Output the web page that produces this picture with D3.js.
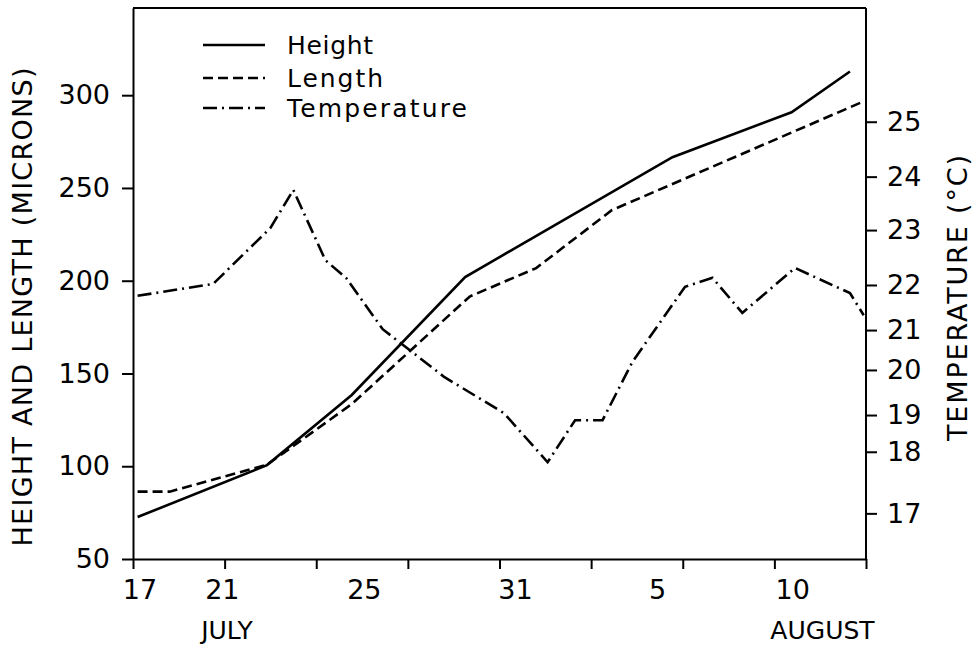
<!DOCTYPE html>
<html>
<head>
<meta charset="utf-8">
<script src="https://cdn.jsdelivr.net/npm/d3@7"></script>
<style>
body{margin:0;background:#fff}
text{font-family:"DejaVu Sans",sans-serif;fill:#000}
</style>
</head>
<body>
<div class="chart"></div>
<script>
// x is days counted from 17 July
const dayTicks = d3.range(0, 33, 4);
const dateLabels = ["17", "21", "25", "31", "5", "10"];
const dateLabelDays = [0.3, 3.9, 10.1, 16.7, 22.9, 28.8];
const monthLabels = ["JULY", "AUGUST"];
const monthLabelDays = [4.1, 30.1];

const micronTicks = [50, 100, 150, 200, 250, 300];
const tempTicks = [17, 18, 19, 20, 21, 22, 23, 24, 25];
// the right axis of the original is unevenly ruled:
// level of each degree, read in microns on the left axis
const tempTickMicrons = [74.6, 107.8, 127.6, 151.9, 173.4, 197.7, 227.3, 256.1, 285.7];

const heightDays = [0.2, 5.85, 9.55, 14.5, 23.55, 28.75, 31.3];
const heightVals = [72.6, 100.6, 138.4, 202, 266.6, 290.8, 312.8];

const lengthDays = [0.2, 1.6, 5.85, 9.55, 14.7, 17.6, 20.9, 31.85];
const lengthVals = [86.3, 86.3, 100.8, 133.5, 191.5, 206.8, 238, 296.4];

const tempDays = [0.2, 3.5, 6.0, 7.0, 8.4, 9.3, 10.9, 13.6, 16.2, 18.1, 19.3, 20.5, 21.8, 24.1, 25.3, 26.6, 28.9, 31.3, 31.9];
const tempVals = [21.76, 22.02, 23.04, 23.75, 22.45, 22.13, 21.02, 19.84, 19.04, 17.83, 18.86, 18.86, 20.2, 21.96, 22.13, 21.38, 22.31, 21.82, 21.33];

const margin = {left:133, right:113, top:8, bottom:90};
const outerWidth = 979;
const outerHeight = 649;
const width = outerWidth - margin.left - margin.right;
const height = outerHeight - margin.top - margin.bottom;

const svg = d3.select(".chart").append("svg")
  .attr("width", outerWidth)
  .attr("height", outerHeight);
svg.append("rect").attr("width", outerWidth).attr("height", outerHeight).attr("fill", "#fff");

const g = svg.append("g")
  .attr("transform", `translate(${margin.left}, ${margin.top})`);

const xScale = d3.scaleLinear().domain([0, 32]).range([0, width]);
const yScale = d3.scaleLinear().domain([50, 347]).range([height, 0]);
const tScale = d3.scaleLinear().domain(tempTicks).range(tempTickMicrons.map(v => yScale(v)));

// axes
const xAxis = d3.axisBottom(xScale).tickValues(dayTicks).tickFormat("").tickSize(10).tickSizeOuter(0);
const yAxis = d3.axisLeft(yScale).tickValues(micronTicks).tickSize(11).tickPadding(12).tickSizeOuter(0);
const tAxis = d3.axisRight(tScale).tickValues(tempTicks).tickSize(11).tickPadding(10).tickSizeOuter(0);

g.append("g").attr("class", "x-axis")
  .attr("transform", `translate(0, ${height})`)
  .call(xAxis);
g.append("g").attr("class", "y-axis").call(yAxis);
g.append("g").attr("class", "t-axis")
  .attr("transform", `translate(${width}, 0)`)
  .call(tAxis);

// the right axis has to reach the top of the frame
g.select(".t-axis .domain").attr("d", `M0,0V${height}`);

g.append("line")
  .attr("x1", 0).attr("x2", width)
  .attr("y1", 0).attr("y2", 0)
  .attr("stroke", "#000").attr("stroke-width", 2);

g.selectAll(".domain").attr("stroke", "#000").attr("stroke-width", 2);
g.selectAll(".tick line").attr("stroke", "#000").attr("stroke-width", 2);
g.selectAll(".tick text").style("font-size", "27px").attr("fill", "#000");

// date labels under the ticks
g.selectAll(".date-label")
  .data(dateLabels)
  .enter()
  .append("text")
  .attr("class", "date-label")
  .attr("x", (d, i) => xScale(dateLabelDays[i]))
  .attr("y", height + 40)
  .attr("text-anchor", "middle")
  .style("font-size", "27px")
  .text(d => d);

g.selectAll(".month-label")
  .data(monthLabels)
  .enter()
  .append("text")
  .attr("class", "month-label")
  .attr("x", (d, i) => xScale(monthLabelDays[i]))
  .attr("y", height + 80)
  .attr("text-anchor", "middle")
  .style("font-size", "25px")
  .text(d => d);

// axis titles
svg.append("text")
  .attr("transform", "translate(22, 307) rotate(-90)")
  .attr("text-anchor", "middle")
  .attr("dy", "0.36em")
  .attr("textLength", 479)
  .attr("lengthAdjust", "spacing")
  .style("font-size", "27px")
  .text("HEIGHT AND LENGTH (MICRONS)");

svg.append("text")
  .attr("transform", "translate(957, 298) rotate(-90)")
  .attr("text-anchor", "middle")
  .attr("dy", "0.36em")
  .attr("textLength", 286)
  .attr("lengthAdjust", "spacing")
  .style("font-size", "27px")
  .text("TEMPERATURE (°C)");

// series
const series = [
  {name:"Height", days:heightDays, vals:heightVals, scale:yScale, dash:null, tl:86},
  {name:"Length", days:lengthDays, vals:lengthVals, scale:yScale, dash:"10,5", tl:96},
  {name:"Temperature", days:tempDays, vals:tempVals, scale:tScale, dash:"14,5,2,5", tl:180}
];

series.forEach(s => {
  const line = d3.line()
    .x((d, i) => xScale(s.days[i]))
    .y(d => s.scale(d));
  g.append("path")
    .datum(s.vals)
    .attr("fill", "none")
    .attr("stroke", "#000")
    .attr("stroke-width", 2.6)
    .attr("stroke-dasharray", s.dash)
    .attr("d", line);
});

// legend
const legendRows = [37, 70, 100];
const legend = g.append("g").attr("class", "legend");
series.forEach((s, i) => {
  legend.append("line")
    .attr("x1", 70).attr("x2", 132)
    .attr("y1", legendRows[i]).attr("y2", legendRows[i])
    .attr("stroke", "#000")
    .attr("stroke-width", 2.5)
    .attr("stroke-dasharray", s.dash);
  legend.append("text")
    .attr("x", 154)
    .attr("y", legendRows[i])
    .attr("dy", "0.36em")
    .attr("textLength", s.tl)
    .attr("lengthAdjust", "spacing")
    .style("font-size", "25px")
    .text(s.name);
});
</script>
</body>
</html>
